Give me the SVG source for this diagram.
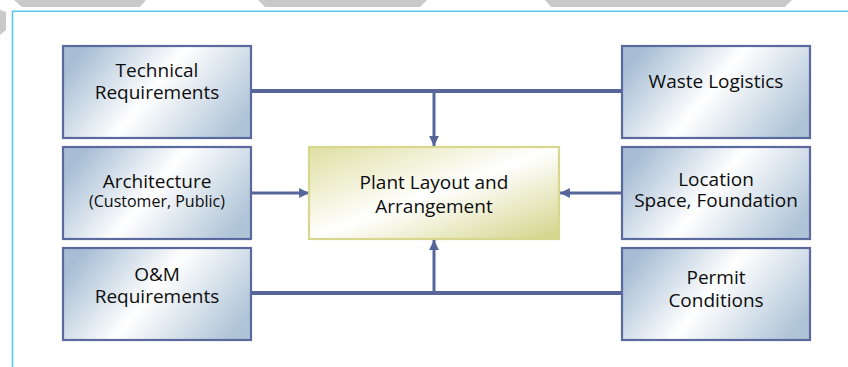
<svg xmlns="http://www.w3.org/2000/svg" width="848" height="367" viewBox="0 0 848 367">
  <defs>
    <linearGradient id="gBlue" x1="0" y1="0.3" x2="1" y2="0.7">
      <stop offset="0" stop-color="#a6bdd4"/>
      <stop offset="0.47" stop-color="#ffffff"/>
      <stop offset="1" stop-color="#afc4d7"/>
    </linearGradient>
    <linearGradient id="gOlive" x1="0" y1="0" x2="1" y2="1">
      <stop offset="0" stop-color="#dfdfa2"/>
      <stop offset="0.5" stop-color="#ffffff"/>
      <stop offset="1" stop-color="#d3d388"/>
    </linearGradient>
    <marker id="arr" viewBox="0 0 10 10" refX="10" refY="5" markerWidth="3.3" markerHeight="3.3" orient="auto" markerUnits="strokeWidth">
      <path d="M0,0 L10,5 L0,10 z" fill="#56659a"/>
    </marker>
    <style>
      .box { fill: url(#gBlue); stroke: #5a6a9e; stroke-width: 2.2; }
      .center { fill: url(#gOlive); stroke: #d7d790; stroke-width: 2.2; }
      .t { font-family: "Open Sans", "Liberation Sans", sans-serif; font-size: 19px; font-weight: 500; fill: #0d0d0d; text-anchor: middle; }
      .s { font-size: 16px; }
      .bus { stroke: #56659a; stroke-width: 4; fill: none; }
      .ar { stroke: #56659a; stroke-width: 3; fill: none; marker-end: url(#arr); }
      .deco { fill: #c9c9c9; }
    </style>
  </defs>

  <rect width="848" height="367" fill="#ffffff"/>

  <g id="decoration">
    <polygon class="deco" points="14,0 146,0 140,7 22,7"/>
    <polygon class="deco" points="258,0 427,0 420,7 265,7"/>
    <polygon class="deco" points="545,0 792,0 785,7 551,7"/>
    <polygon class="deco" points="0,10 6,12 6,30 0,35"/>
    <path d="M12.5,367 V11.3 H848" fill="none" stroke="#5cc6ee" stroke-width="1.6"/>
  </g>

  <g id="connectors">
    <path class="bus" d="M251,91 H622"/>
    <path class="bus" d="M252,293 H622"/>
    <path class="ar" d="M434,91 V146"/>
    <path class="ar" d="M434,293 V240"/>
    <path class="ar" d="M251,193 H309"/>
    <path class="ar" d="M622,193 H560"/>
  </g>

  <g id="technical-requirements">
    <rect class="box" x="63" y="46" width="188" height="92"/>
    <text class="t" x="157" y="77">Technical</text>
    <text class="t" x="157" y="99">Requirements</text>
  </g>

  <g id="waste-logistics">
    <rect class="box" x="622" y="46" width="188" height="92"/>
    <text class="t" x="716" y="88">Waste Logistics</text>
  </g>

  <g id="architecture">
    <rect class="box" x="63" y="147" width="188" height="92"/>
    <text class="t" x="157" y="188">Architecture</text>
    <text class="t s" x="157" y="207">(Customer, Public)</text>
  </g>

  <g id="plant-layout">
    <rect class="center" x="309" y="147" width="250" height="92"/>
    <text class="t" x="434" y="189">Plant Layout and</text>
    <text class="t" x="434" y="213">Arrangement</text>
  </g>

  <g id="location">
    <rect class="box" x="622" y="147" width="188" height="92"/>
    <text class="t" x="716" y="186">Location</text>
    <text class="t" x="716" y="207">Space, Foundation</text>
  </g>

  <g id="om-requirements">
    <rect class="box" x="63" y="248" width="188" height="92"/>
    <text class="t" x="157" y="281">O&amp;M</text>
    <text class="t" x="157" y="303">Requirements</text>
  </g>

  <g id="permit-conditions">
    <rect class="box" x="622" y="248" width="188" height="92"/>
    <text class="t" x="716" y="284">Permit</text>
    <text class="t" x="716" y="307">Conditions</text>
  </g>
</svg>
